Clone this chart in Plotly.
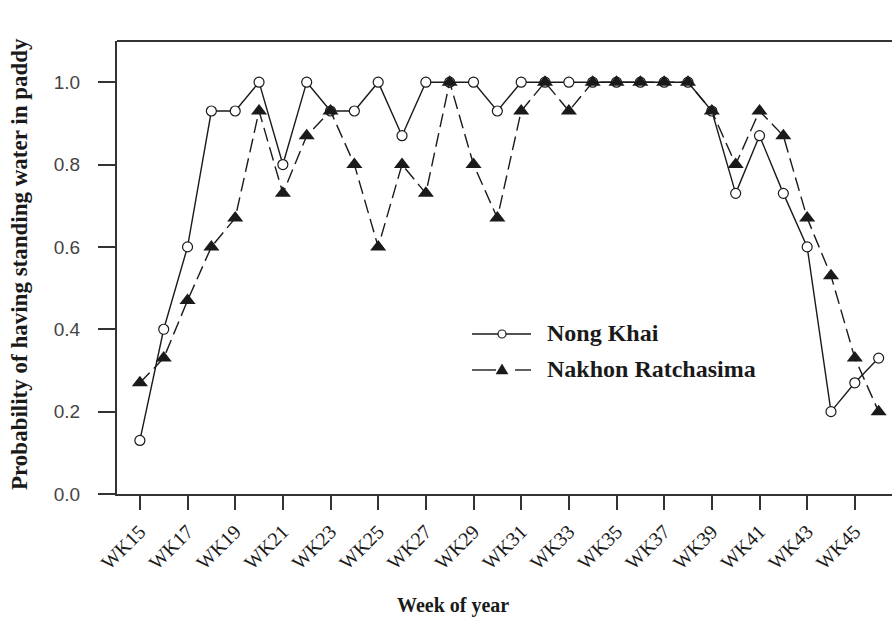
import plotly.graph_objects as go

# Weekly probability of standing water in paddy fields
weeks = list(range(15, 47))
nong_khai = [0.13, 0.40, 0.60, 0.93, 0.93, 1.00, 0.80, 1.00, 0.93, 0.93, 1.00, 0.87,
             1.00, 1.00, 1.00, 0.93, 1.00, 1.00, 1.00, 1.00, 1.00, 1.00, 1.00, 1.00,
             0.93, 0.73, 0.87, 0.73, 0.60, 0.20, 0.27, 0.33]
nakhon_ratchasima = [0.27, 0.33, 0.47, 0.60, 0.67, 0.93, 0.73, 0.87, 0.93, 0.80, 0.60, 0.80,
                     0.73, 1.00, 0.80, 0.67, 0.93, 1.00, 0.93, 1.00, 1.00, 1.00, 1.00, 1.00,
                     0.93, 0.80, 0.93, 0.87, 0.67, 0.53, 0.33, 0.20]
tick_weeks = list(range(15, 46, 2))
tick_labels = [f"WK{w}" for w in tick_weeks]
y_ticks = [0.0, 0.2, 0.4, 0.6, 0.8, 1.0]

W, H = 892, 628
L, R, T, B = 117, 0, 41, 134
PW, PH = W - L - R, H - T - B

SERIF = "Liberation Serif"
SANS = "Liberation Sans"
INK = "#1a1a1a"
AXIS = "#333333"

fig = go.Figure()
fig.add_trace(go.Scatter(
    x=weeks, y=nong_khai, mode="lines+markers", name="Nong Khai",
    line=dict(color=INK, width=1.4),
    marker=dict(symbol="circle", size=10, color="white", line=dict(color=INK, width=1.2)),
))
fig.add_trace(go.Scatter(
    x=weeks, y=nakhon_ratchasima, mode="lines+markers", name="Nakhon Ratchasima",
    line=dict(color=INK, width=1.4, dash="14px,6px"),
    marker=dict(symbol="triangle-up", size=14, color=INK, line=dict(width=0)),
))


def px(xp):
    return (xp - L) / PW


def py(yp):
    return (T + PH - yp) / PH


shapes = [
    # top frame line
    dict(type="line", xref="paper", yref="paper", x0=0, x1=1, y0=1, y1=1,
         line=dict(color=AXIS, width=2)),
]

# hand-drawn legend keys
r1, r2 = 334, 370
shapes.append(dict(type="line", xref="paper", yref="paper", x0=px(472), x1=px(531),
                   y0=py(r1), y1=py(r1), line=dict(color=INK, width=1.4)))
shapes.append(dict(type="circle", xref="paper", yref="paper",
                   x0=px(498), x1=px(506), y0=py(r1 + 4), y1=py(r1 - 4),
                   fillcolor="white", line=dict(color=INK, width=1.2)))
shapes.append(dict(type="line", xref="paper", yref="paper", x0=px(472), x1=px(496),
                   y0=py(r2), y1=py(r2), line=dict(color=INK, width=1.4)))
shapes.append(dict(type="line", xref="paper", yref="paper", x0=px(515), x1=px(531),
                   y0=py(r2), y1=py(r2), line=dict(color=INK, width=1.4)))
shapes.append(dict(type="path", xref="paper", yref="paper",
                   path=f"M {px(496)} {py(r2 + 4)} L {px(508)} {py(r2 + 4)} L {px(502)} {py(r2 - 6)} Z",
                   fillcolor=INK, line=dict(color=INK, width=0.5)))

annotations = [
    dict(text="Nong Khai", xref="paper", yref="paper", x=px(545), y=py(r1 - 1),
         xanchor="left", yanchor="middle", showarrow=False,
         font=dict(family=SERIF, size=24, color=INK, weight="bold")),
    dict(text="Nakhon Ratchasima", xref="paper", yref="paper", x=px(545), y=py(r2 - 1),
         xanchor="left", yanchor="middle", showarrow=False,
         font=dict(family=SERIF, size=24, color=INK, weight="bold")),
    dict(text="Week of year", xref="paper", yref="paper", x=px(453), y=py(605),
         xanchor="center", yanchor="middle", showarrow=False,
         font=dict(family=SERIF, size=20, color=INK, weight="bold")),
    dict(text="Probability of having standing water in paddy", xref="paper", yref="paper",
         x=px(19), y=py(264), xanchor="center", yanchor="middle", textangle=-90,
         showarrow=False, font=dict(family=SERIF, size=23, color=INK, weight="bold")),
]

fig.update_layout(
    width=W, height=H,
    margin=dict(l=L, r=R, t=T, b=B, pad=0),
    paper_bgcolor="white", plot_bgcolor="white",
    showlegend=False,
    shapes=shapes,
    annotations=annotations,
    xaxis=dict(
        range=[14.04, 46.56], tickmode="array", tickvals=tick_weeks, ticktext=tick_labels,
        tickangle=-45, ticks="outside", ticklen=14, tickwidth=1.5, tickcolor=AXIS,
        showline=True, linecolor=AXIS, linewidth=2, showgrid=False, zeroline=False,
        tickfont=dict(family=SERIF, size=20, color=INK), ticklabelstandoff=2,
    ),
    yaxis=dict(
        range=[0, 1.1], tickmode="array", tickvals=y_ticks, tickformat=".1f",
        ticks="outside", ticklen=17, tickwidth=1.5, tickcolor=AXIS,
        showline=True, linecolor=AXIS, linewidth=2, showgrid=False, zeroline=False,
        tickfont=dict(family=SANS, size=19, color="#444444"), ticklabelstandoff=14,
    ),
)

fig.write_html("out.html")
